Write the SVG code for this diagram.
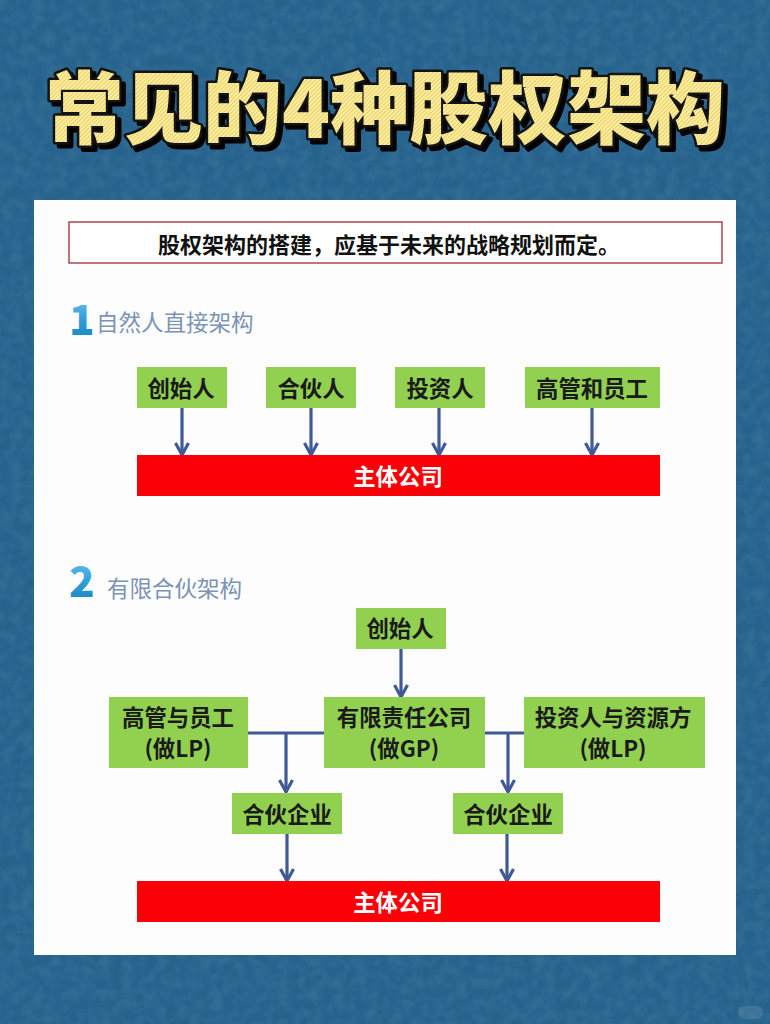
<svg xmlns="http://www.w3.org/2000/svg" width="770" height="1024" viewBox="0 0 770 1024">
<style>
text{font-family:"Noto Sans CJK SC","Noto Sans",sans-serif}
.g{fill:#92d050}
.r{fill:#fb0007}
.t{font-size:22.400px;font-weight:600;fill:#1a1a1a;text-anchor:middle}
.w{font-size:22.400px;font-weight:700;fill:#fff;text-anchor:middle}
.h{font-size:22.500px;font-weight:400;fill:#7b93b5}
.c{fill:none;stroke:#3f5a96;stroke-width:3.200}
.n{font-size:42px;font-weight:900;fill:url(#num)}
.title{font-size:79px;font-weight:900;text-anchor:middle;stroke:#141414;stroke-width:5px;stroke-linejoin:round;paint-order:stroke;fill:url(#hatch);filter:drop-shadow(4px 4px 0 #000)}
</style>
<defs>
<marker id="a" markerUnits="userSpaceOnUse" markerWidth="18" markerHeight="18" refX="14" refY="8" orient="auto">
<path d="M2 1.500L14 8L2 14.500" fill="none" stroke="#3f5a96" stroke-width="3.200"/>
</marker>
<pattern id="hatch" width="3" height="3" patternUnits="userSpaceOnUse" patternTransform="rotate(45)">
<rect width="3" height="3" fill="#ffee98"/><rect width="0.800" height="3" fill="#dcc670"/>
</pattern>
<linearGradient id="num" x1="0" y1="0" x2="0" y2="1">
<stop offset="0" stop-color="#7fd0f0"/><stop offset="0.600" stop-color="#2a9ad6"/><stop offset="1" stop-color="#1a7fb8"/>
</linearGradient>
<filter id="noise" x="0" y="0" width="100%" height="100%">
<feTurbulence type="fractalNoise" baseFrequency="0.09" numOctaves="3" seed="4"/>
<feColorMatrix values="0 0 0 0 0.07  0 0 0 0 0.22  0 0 0 0 0.36  0.7 0 0 0 -0.22"/>
</filter>
</defs>
<rect id="background" width="770" height="1024" fill="#25628c"/>
<rect id="texture" width="770" height="1024" filter="url(#noise)"/>
<rect id="watermark" x="738" y="1006" width="25" height="13" rx="6" fill="#fff" opacity="0.1"/>
<g id="title">
<text class="title" x="385" y="138">常见的4种股权架构</text>
</g>
<rect id="panel" x="34" y="200" width="702" height="755" fill="#fdfdfd"/>
<g id="banner">
<rect x="69" y="222" width="653" height="41" fill="#fff" stroke="#a8484f" stroke-width="1.500"/>
<text x="389" y="253" fill="#111" text-anchor="middle" font-weight="600" style="font-size:22px">股权架构的搭建，应基于未来的战略规划而定。</text>
</g>
<g id="heading1"><text class="n" x="69" y="335">1</text><text class="h" x="96" y="331">自然人直接架构</text></g>
<g id="heading2"><text class="n" x="69" y="597">2</text><text class="h" x="107" y="597">有限合伙架构</text></g>
<g id="connectors">
<path class="c" marker-end="url(#a)" d="M182 408V455"/>
<path class="c" marker-end="url(#a)" d="M311 408V455"/>
<path class="c" marker-end="url(#a)" d="M439 408V455"/>
<path class="c" marker-end="url(#a)" d="M592 408V455"/>
<path class="c" marker-end="url(#a)" d="M401 649V697"/>
<path class="c" d="M248 733H324"/>
<path class="c" marker-end="url(#a)" d="M286 733V792"/>
<path class="c" d="M485 733H524"/>
<path class="c" marker-end="url(#a)" d="M508 733V792"/>
<path class="c" marker-end="url(#a)" d="M287 834V881"/>
<path class="c" marker-end="url(#a)" d="M507 834V881"/>
</g>
<g id="n1"><rect class="g" x="137" y="367" width="90" height="41"/><text class="t" x="181" y="397">创始人</text></g>
<g id="n2"><rect class="g" x="266" y="367" width="90" height="41"/><text class="t" x="311" y="397">合伙人</text></g>
<g id="n3"><rect class="g" x="395" y="367" width="90" height="41"/><text class="t" x="440" y="397">投资人</text></g>
<g id="n4"><rect class="g" x="525" y="367" width="135" height="41"/><text class="t" x="592" y="397">高管和员工</text></g>
<g id="n5"><rect class="r" x="137" y="455" width="523" height="41"/><text class="w" x="398" y="485">主体公司</text></g>
<g id="n6"><rect class="g" x="356" y="608" width="90" height="41"/><text class="t" x="400" y="637">创始人</text></g>
<g id="n7"><rect class="g" x="109" y="697" width="139" height="71"/><text class="t"><tspan x="178" y="726">高管与员工</tspan><tspan x="178" y="757">(做LP)</tspan></text></g>
<g id="n8"><rect class="g" x="324" y="697" width="161" height="71"/><text class="t"><tspan x="404" y="726">有限责任公司</tspan><tspan x="404" y="757">(做GP)</tspan></text></g>
<g id="n9"><rect class="g" x="524" y="697" width="181" height="71"/><text class="t"><tspan x="613" y="726">投资人与资源方</tspan><tspan x="613" y="757">(做LP)</tspan></text></g>
<g id="n10"><rect class="g" x="232" y="793" width="110" height="41"/><text class="t" x="287" y="823">合伙企业</text></g>
<g id="n11"><rect class="g" x="453" y="793" width="110" height="41"/><text class="t" x="508" y="823">合伙企业</text></g>
<g id="n12"><rect class="r" x="137" y="881" width="523" height="41"/><text class="w" x="398" y="911">主体公司</text></g>
</svg>
